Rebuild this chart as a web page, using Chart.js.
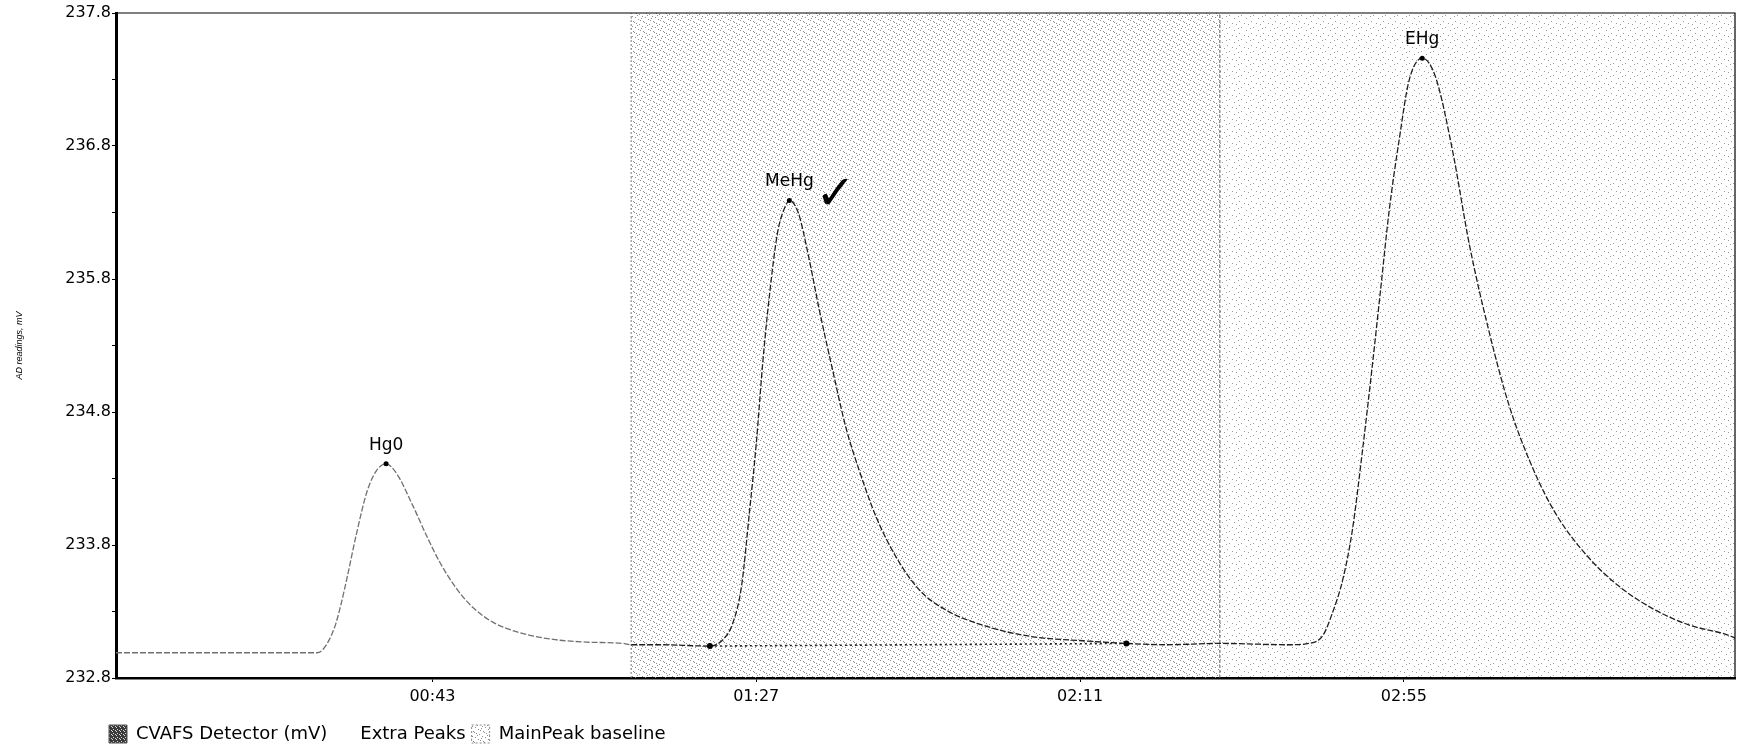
<!DOCTYPE html>
<html lang="en">
<head>
  <meta charset="UTF-8" />
  <title>CVAFS Detector - peaks</title>
  <script src="https://cdn.jsdelivr.net/npm/chart.js@4.4.1/dist/chart.umd.min.js"></script>
  <style>
    html, body { margin: 0; padding: 0; background: #fff; }
    #chromChart { display: block; }
  </style>
</head>
<body>
  <canvas id="chromChart" width="1739" height="751"></canvas>

  <script>
    // detector trace, time in seconds / reading in mV
    const traceTime = [0, 27.3, 28.2, 29.7, 30.6, 31.5, 32.7, 34.1, 35.4, 36.7, 38.1, 40.3, 42.2, 44.0, 46.3, 48.5,
      51.2, 54.9, 59.4, 63.9, 68.9, 70, 73.9, 80.7, 82.5, 83.8, 85.0, 86.1, 87.0, 87.9, 88.8, 89.9, 90.9, 91.5,
      92.7, 94.0, 95.6, 97.4, 99.2, 101.0, 103.3, 106.0, 109.2, 112.8, 118.2, 124.6, 131.4, 137.3, 142.7, 150,
      159.4, 162.1, 164.0, 165.3, 166.7, 168.0, 169.4, 170.7, 171.9, 173.0, 174.4, 175.7, 177.5, 179.3, 181.6,
      183.9, 186.6, 189.3, 192.5, 195.7, 200.2, 204.7, 209.2, 213.7, 219.2, 220];
    const traceMv = [232.99, 232.99, 233.02, 233.18, 233.36, 233.58, 233.89, 234.20, 234.36, 234.41, 234.34, 234.10,
      233.87, 233.67, 233.47, 233.33, 233.22, 233.14, 233.09, 233.07, 233.06, 233.05, 233.05, 233.04, 233.09, 233.21,
      233.49, 234.06, 234.56, 235.18, 235.68, 236.15, 236.34, 236.39, 236.30, 236.00, 235.56, 235.11, 234.68, 234.36,
      234.01, 233.71, 233.46, 233.31, 233.19, 233.11, 233.08, 233.06, 233.05, 233.06, 233.05, 233.06, 233.12, 233.29,
      233.54, 233.91, 234.52, 235.14, 235.75, 236.31, 236.86, 237.29, 237.46, 237.32, 236.77, 236.06, 235.40, 234.85,
      234.38, 234.03, 233.70, 233.47, 233.31, 233.20, 233.12, 233.10];

    // detected peaks
    const peakNames = ['Hg0', 'MeHg', 'EHg'];
    const peakTime = [36.7, 91.5, 177.5];
    const peakMv = [234.41, 236.39, 237.46];

    // MeHg baseline (start / end markers)
    const baseTime = [80.7, 137.3];
    const baseMv = [233.04, 233.06];

    // shaded windows and their borders
    const regionEdges = [70, 150, 220];

    // handwritten tick next to MeHg
    const checkTime = [97.8];
    const checkMv = [236.42];

    const yTickValues = [232.8, 233.3, 233.8, 234.3, 234.8, 235.3, 235.8, 236.3, 236.8, 237.3, 237.8];
    const yTickLabels = ['232.8', '', '233.8', '', '234.8', '', '235.8', '', '236.8', '', '237.8'];
    const xTickValues = [43, 87, 131, 175];
    const xTickLabels = ['00:43', '01:27', '02:11', '02:55'];

    const fontFamily = '"DejaVu Sans", Verdana, sans-serif';

    function dotPattern(size, dots, color, bg) {
      const c = document.createElement('canvas');
      c.width = size;
      c.height = size;
      const g = c.getContext('2d');
      if (bg) { g.fillStyle = bg; g.fillRect(0, 0, size, size); }
      g.fillStyle = color;
      dots.forEach(([x, y]) => g.fillRect(x, y, 1, 1));
      return g.createPattern(c, 'repeat');
    }

    const densePattern = dotPattern(10, [[0, 0], [3, 1], [6, 3], [9, 4], [2, 6], [5, 7], [8, 9], [4, 2], [7, 5], [1, 8]], '#8c8c8c');
    const sparsePattern = dotPattern(12, [[0, 0], [5, 3], [10, 6], [3, 9], [8, 11], [2, 4]], '#9a9a9a');
    const darkPattern = dotPattern(4, [[1, 1], [3, 2], [0, 3]], '#d8d8d8', '#3a3a3a');

    const pts = (xs, ys) => xs.map((v, i) => ({ x: v, y: ys[i] }));
    const yMin = yTickValues[0];
    const yMax = yTickValues[yTickValues.length - 1];

    const legendLook = {
      'CVAFS Detector (mV)': { fillStyle: darkPattern, strokeStyle: '#555', lineWidth: 1, lineDash: [] },
      'Extra Peaks': { fillStyle: 'rgba(0,0,0,0)', strokeStyle: 'rgba(0,0,0,0)', lineWidth: 0, lineDash: [] },
      'MainPeak baseline': { fillStyle: densePattern, strokeStyle: '#888', lineWidth: 1, lineDash: [2, 2] }
    };

    const annotate = {
      id: 'annotate',
      afterLayout(chart) {
        chart.legend.left += 103;
        chart.legend.top += 2;
        chart.legend.bottom += 2;
      },
      afterDraw(chart) {
        const { ctx, chartArea: a, scales: { x, y } } = chart;
        ctx.save();
        ctx.strokeStyle = '#000';
        ctx.lineWidth = 1.2;
        ctx.beginPath();
        ctx.moveTo(a.left, a.top);
        ctx.lineTo(a.right, a.top);
        ctx.lineTo(a.right, a.bottom);
        ctx.stroke();

        ctx.fillStyle = '#000';
        ctx.textAlign = 'center';
        ctx.textBaseline = 'bottom';
        ctx.font = '17px ' + fontFamily;
        peakNames.forEach((name, i) => {
          ctx.fillText(name, x.getPixelForValue(peakTime[i]), y.getPixelForValue(peakMv[i]) - 10);
        });

        ctx.textBaseline = 'middle';
        ctx.font = '48px "DejaVu Sans", sans-serif';
        checkTime.forEach((t, i) => {
          ctx.fillText('\u2713', x.getPixelForValue(t), y.getPixelForValue(checkMv[i]));
        });
        ctx.restore();
      }
    };

    new Chart(document.getElementById('chromChart').getContext('2d'), {
      type: 'line',
      data: {
        datasets: [
          {
            label: 'CVAFS Detector (mV)',
            data: pts(traceTime, traceMv),
            borderColor: '#1e1e1e',
            backgroundColor: darkPattern,
            borderWidth: 1.3,
            borderDash: [6, 2],
            cubicInterpolationMode: 'monotone',
            pointRadius: 0,
            fill: false,
            order: 2,
            segment: {
              borderColor: ctx => ctx.p0.parsed.x < regionEdges[0] ? '#707070' : '#1e1e1e'
            }
          },
          {
            label: 'Extra Peaks',
            data: [{ x: peakTime[0], y: peakMv[0] }],
            showLine: false,
            pointRadius: 2.5,
            pointBackgroundColor: '#000',
            pointBorderWidth: 0,
            borderColor: '#000',
            order: 0
          },
          {
            label: 'MainPeak baseline',
            data: [{ x: regionEdges[0], y: yMax }, { x: regionEdges[1], y: yMax }],
            borderColor: 'rgba(0,0,0,0)',
            borderWidth: 0,
            backgroundColor: densePattern,
            pointRadius: 0,
            fill: 'start',
            order: 10
          },
          {
            label: 'window2',
            data: [{ x: regionEdges[1], y: yMax }, { x: regionEdges[2], y: yMax }],
            borderColor: 'rgba(0,0,0,0)',
            borderWidth: 0,
            backgroundColor: sparsePattern,
            pointRadius: 0,
            fill: 'start',
            order: 11
          },
          {
            label: 'baseline',
            data: pts(baseTime, baseMv),
            borderColor: '#222',
            borderWidth: 1.6,
            borderDash: [2, 3],
            pointRadius: 3,
            pointBackgroundColor: '#000',
            pointBorderWidth: 0,
            fill: false,
            order: 1
          },
          {
            label: 'peaks',
            data: pts(peakTime.slice(1), peakMv.slice(1)),
            showLine: false,
            pointRadius: 2.5,
            pointBackgroundColor: '#000',
            pointBorderWidth: 0,
            order: 0
          },
          {
            label: 'edge1',
            data: [{ x: regionEdges[0], y: yMin }, { x: regionEdges[0], y: yMax }],
            borderColor: '#777',
            borderWidth: 1,
            borderDash: [2, 2],
            pointRadius: 0,
            order: 5
          },
          {
            label: 'edge2',
            data: [{ x: regionEdges[1], y: yMin }, { x: regionEdges[1], y: yMax }],
            borderColor: '#555',
            borderWidth: 1,
            borderDash: [3, 2],
            pointRadius: 0,
            order: 5
          }
        ]
      },
      options: {
        responsive: false,
        animation: false,
        events: [],
        layout: { padding: { top: 13, right: 3, left: 0, bottom: 0 } },
        scales: {
          x: {
            type: 'linear',
            min: 0,
            max: regionEdges[2],
            afterBuildTicks: scale => { scale.ticks = xTickValues.map(v => ({ value: v })); },
            afterFit: scale => { scale.height = 39; },
            ticks: {
              autoSkip: false,
              maxRotation: 0,
              padding: 5,
              color: '#000',
              font: { family: fontFamily, size: 16 },
              callback: (v, i) => xTickLabels[i]
            },
            grid: { drawOnChartArea: false, drawTicks: true, tickLength: 4, color: '#000' },
            border: { display: true, color: '#000', width: 2.5 }
          },
          y: {
            min: yMin,
            max: yMax,
            afterBuildTicks: scale => { scale.ticks = yTickValues.map(v => ({ value: v })); },
            afterFit: scale => { scale.width = 116; },
            ticks: {
              autoSkip: false,
              padding: 1,
              color: '#000',
              font: { family: fontFamily, size: 16 },
              callback: (v, i) => yTickLabels[i]
            },
            grid: { drawOnChartArea: false, drawTicks: true, tickLength: 4, color: '#000' },
            border: { display: true, color: '#000', width: 3 },
            title: {
              display: true,
              text: 'AD readings, mV',
              color: '#000',
              padding: { top: 14, bottom: 0 },
              font: { family: '"Liberation Sans", Arial, sans-serif', size: 9, style: 'italic' }
            }
          }
        },
        plugins: {
          tooltip: { enabled: false },
          legend: {
            position: 'bottom',
            align: 'start',
            labels: {
              boxWidth: 18,
              boxHeight: 18,
              padding: 6,
              color: '#000',
              font: { family: fontFamily, size: 18 },
              generateLabels(chart) {
                const items = Chart.defaults.plugins.legend.labels.generateLabels(chart);
                return items
                  .filter(it => legendLook[it.text])
                  .sort((p, q) => p.datasetIndex - q.datasetIndex)
                  .map(it => Object.assign(it, legendLook[it.text]));
              }
            }
          }
        }
      },
      plugins: [annotate]
    });
  </script>
</body>
</html>
